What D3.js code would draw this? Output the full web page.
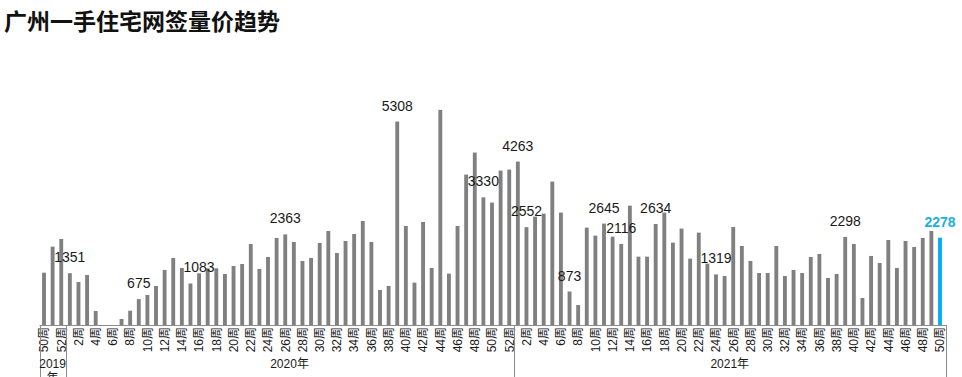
<!DOCTYPE html>
<html>
<head>
<meta charset="utf-8">
<script src="https://cdn.jsdelivr.net/npm/d3@7"></script>
<style>
  body { margin: 0; background: #fff; }
  svg { display: block; }
</style>
</head>
<body>
<svg width="962" height="377"></svg>
<script>
// weekly signed units, guangzhou new homes
var years = ['2019年', '2020年', '2021年'];
var weeks2019 = [50, 51, 52];
var weeks2020 = d3.range(1, 53);
var weeks2021 = d3.range(1, 51);

var sales2019 = [1365, 2044, 2245];
var sales2020 = [1351, 1122, 1305, 365, 0, 0, 157, 373, 675, 783,
	1018, 1436, 1749, 1488, 1083, 1349, 1479, 1479, 1331, 1540,
	1592, 2114, 1462, 1775, 2271, 2363, 2166, 1670, 1749, 2140,
	2453, 1879, 2192, 2375, 2714, 2166, 914, 1018, 5308, 2584,
	1105, 2688, 1488, 5612, 1340, 2584, 3924, 4498, 3330, 3193,
	4028, 4054];
var sales2021 = [4263, 2552, 2827, 2906, 3741, 2932, 873, 522, 2540, 2331,
	2645, 2305, 2116, 3114, 1783, 1783, 2634, 2932, 2148, 2514,
	1731, 2410, 1600, 1319, 1279, 2558, 2062, 1670, 1357, 1357,
	2062, 1279, 1436, 1357, 1775, 1853, 1227, 1331, 2298, 2114,
	705, 1801, 1618, 2218, 1488, 2192, 2036, 2271, 2453, 2278];

// bars that carry a value label
var labelled = ['2020-1', '2020-9', '2020-15', '2020-26', '2020-39', '2020-49',
	'2021-1', '2021-2', '2021-7', '2021-11', '2021-13', '2021-17', '2021-24',
	'2021-39', '2021-50'];
var highlight = '2021-50';

var svg = d3.select('svg');
var font = '"Liberation Sans", Arial, "Noto Sans CJK SC", sans-serif';

var groups = [
	{ year: years[0], key: '2019', weeks: weeks2019, values: sales2019 },
	{ year: years[1], key: '2020', weeks: weeks2020, values: sales2020 },
	{ year: years[2], key: '2021', weeks: weeks2021, values: sales2021 }
];

var data = [];
groups.forEach(function(g) {
	g.weeks.forEach(function(w, i) {
		data.push({ key: g.key + '-' + w, week: w, group: g.key, value: g.values[i] });
	});
});

var baseY = 325;
var x = d3.scaleBand()
	.domain(data.map(d => d.key))
	.range([39.7, 944.3])
	.paddingInner(0.55)
	.paddingOuter(0.275);

var y = d3.scaleLinear().domain([0, 6000]).range([baseY, 95]);

svg.append('text')
	.attr('x', 4)
	.attr('y', 30)
	.attr('font-family', '"Noto Sans CJK SC", sans-serif')
	.attr('font-weight', 'bold')
	.attr('font-size', 23)
	.attr('fill', '#111')
	.text('广州一手住宅网签量价趋势');

// bars
svg.append('g')
	.selectAll('rect')
	.data(data)
	.enter()
	.append('rect')
	.attr('x', d => x(d.key))
	.attr('width', x.bandwidth())
	.attr('y', d => y(d.value))
	.attr('height', d => baseY - y(d.value))
	.attr('fill', d => d.key === highlight ? '#00b0f0' : '#808080');

// value labels
var nudge = { '2020-15': x.step() };
svg.append('g')
	.selectAll('text')
	.data(data.filter(d => labelled.indexOf(d.key) >= 0))
	.enter()
	.append('text')
	.attr('x', d => x(d.key) + x.bandwidth() / 2 + (nudge[d.key] || 0))
	.attr('y', d => y(d.value) - 11)
	.attr('text-anchor', 'middle')
	.attr('font-family', font)
	.attr('font-size', 14)
	.attr('font-weight', d => d.key === highlight ? 'bold' : 'normal')
	.attr('fill', d => d.key === highlight ? '#1eaee0' : '#1a1a1a')
	.text(d => d.value);

// week axis
var weekOf = {};
data.forEach(d => { weekOf[d.key] = d.week; });

var axis = svg.append('g')
	.attr('transform', 'translate(0,' + baseY + ')')
	.call(d3.axisBottom(x)
		.tickValues(data.filter(d => d.week % 2 === 0).map(d => d.key))
		.tickSize(0)
		.tickFormat(k => weekOf[k] + '周'));

axis.select('.domain').attr('stroke', '#8c8c8c').attr('d', 'M39.5,0.5H946');
axis.selectAll('text')
	.attr('transform', 'rotate(-90)')
	.attr('x', -2)
	.attr('y', 0)
	.attr('dy', '0.36em')
	.style('text-anchor', 'end')
	.attr('font-family', font)
	.attr('font-size', 12)
	.attr('fill', '#1a1a1a');

// year groups
var gap = (x.step() - x.bandwidth()) / 2;
var edges = groups.map(g => x(g.key + '-' + g.weeks[0]) - gap);
edges.push(946);

svg.append('g')
	.selectAll('line')
	.data(edges)
	.enter()
	.append('line')
	.attr('x1', d => Math.round(d) + 0.5)
	.attr('x2', d => Math.round(d) + 0.5)
	.attr('y1', baseY)
	.attr('y2', 377)
	.attr('stroke', '#8c8c8c');

var yearText = svg.append('g')
	.selectAll('text')
	.data(groups)
	.enter()
	.append('text')
	.attr('x', (d, i) => (edges[i] + edges[i + 1]) / 2)
	.attr('y', 368)
	.attr('text-anchor', 'middle')
	.attr('font-family', font)
	.attr('font-size', 12)
	.attr('fill', '#1a1a1a');

// the 2019 cell is too narrow, so its label wraps like excel's does
yearText.each(function(d, i) {
	var t = d3.select(this);
	var w = edges[i + 1] - edges[i];
	if (w < 40) {
		var cx = (edges[i] + edges[i + 1]) / 2;
		t.append('tspan').attr('x', cx).text(d.year.slice(0, -1));
		t.append('tspan').attr('x', cx).attr('dy', 14).text(d.year.slice(-1));
	} else {
		t.text(d.year);
	}
});
</script>
</body>
</html>
